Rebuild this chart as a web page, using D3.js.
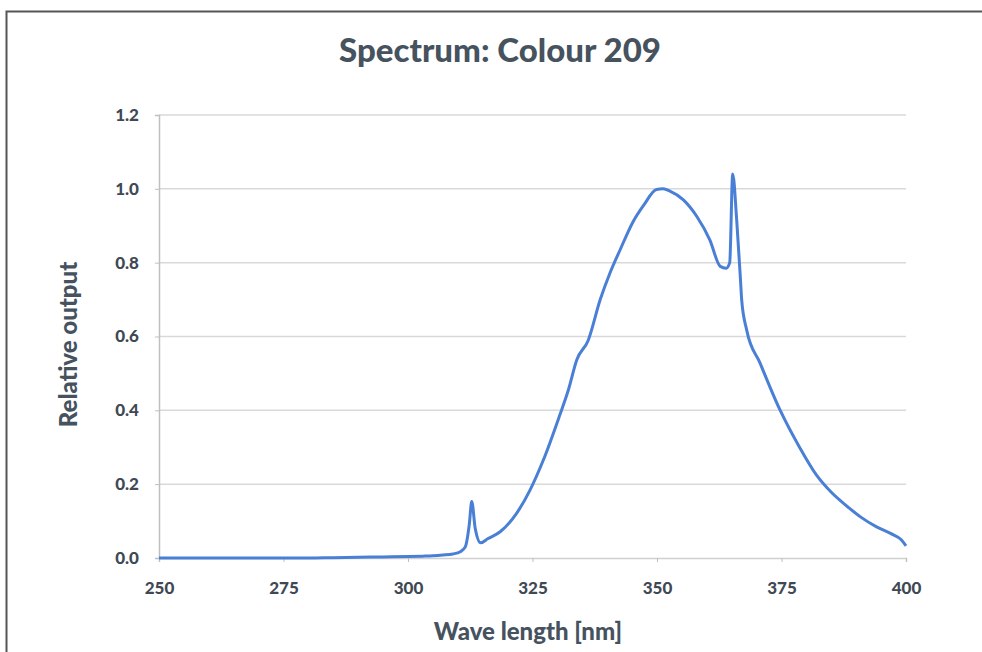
<!DOCTYPE html>
<html>
<head>
<meta charset="utf-8">
<script src="https://cdn.jsdelivr.net/npm/d3@7"></script>
<style>
  body { margin: 0; background: #fff; }
  text { font-family: Lato, "Open Sans", sans-serif; font-weight: 900; }
</style>
</head>
<body>
<div id="canvas"></div>
<script>
// data
var wavelengths = [250, 260, 270, 280, 285, 290, 295, 300, 303, 305, 307, 309, 310.5, 311.5, 312.3, 312.8,
  313.5, 314.6, 316, 318.5, 321.8, 324.5, 327.2, 330.5, 332.2, 333.9, 336.2, 338.6, 340.5, 342.6, 345.2,
  347.3, 349.9, 351.2, 352.6, 355.3, 358, 360.6, 362.7, 363.9, 364.6, 365.2, 366, 366.8, 367, 368, 370.7,
  374.7, 378.7, 382, 385, 388, 391, 394, 397, 399, 400];
var output = [0, 0, 0, 0, 0.001, 0.002, 0.003, 0.004, 0.005, 0.006, 0.008, 0.011, 0.017, 0.03, 0.09, 0.153,
  0.08, 0.041, 0.052, 0.071, 0.121, 0.184, 0.266, 0.388, 0.455, 0.537, 0.59, 0.70, 0.77, 0.835, 0.911,
  0.955, 0.998, 1.0, 0.994, 0.97, 0.925, 0.862, 0.79, 0.785, 0.80, 1.04, 0.916, 0.745, 0.70, 0.618, 0.528,
  0.401, 0.298, 0.225, 0.178, 0.142, 0.11, 0.085, 0.066, 0.05, 0.033];
var xTicks = [250, 275, 300, 325, 350, 375, 400];
var yTicks = [0, 0.2, 0.4, 0.6, 0.8, 1.0, 1.2];

var W = 982, H = 652;
var margin = { top: 115, right: 76, bottom: 94, left: 159 },
  width = W - margin.left - margin.right,
  height = H - margin.top - margin.bottom;

var svg = d3.select("#canvas").append("svg")
  .attr("width", W)
  .attr("height", H);

// chart frame
svg.append("rect")
  .attr("x", 6.5).attr("y", 11.5)
  .attr("width", W).attr("height", H)
  .attr("fill", "none")
  .attr("stroke", "#555")
  .attr("stroke-width", 2);

svg.append("text")
  .attr("x", 500).attr("y", 62)
  .attr("text-anchor", "middle")
  .attr("font-size", 33)
  .attr("fill", "#46535f")
  .text("Spectrum: Colour 209");

var g = svg.append("g")
  .attr("transform", "translate(" + margin.left + "," + margin.top + ")");

var x = d3.scaleLinear().domain([250, 400]).range([0, width]);
var y = d3.scaleLinear().domain([0, 1.2]).range([height, 0]);

// gridlines
g.selectAll(".grid")
  .data(yTicks.slice(1))
  .enter().append("line")
  .attr("x1", 0).attr("x2", width)
  .attr("y1", function(d) { return y(d); })
  .attr("y2", function(d) { return y(d); })
  .attr("stroke", "#d9d9d9")
  .attr("stroke-width", 1.5);

// y axis
var yAxis = g.append("g")
  .call(d3.axisLeft(y).tickValues(yTicks).tickFormat(d3.format(".1f")).tickSize(4).tickPadding(16));
yAxis.select(".domain").attr("stroke", "#bfbfbf").attr("stroke-width", 1.5);
yAxis.selectAll(".tick line").attr("stroke", "#bfbfbf");
yAxis.selectAll("text").attr("font-size", 17).attr("fill", "#3f4954")
  .attr("font-family", "Lato, sans-serif").attr("font-weight", 900);

// x axis
var xAxis = g.append("g")
  .attr("transform", "translate(0," + height + ")")
  .call(d3.axisBottom(x).tickValues(xTicks).tickSize(4).tickPadding(20));
xAxis.select(".domain").attr("stroke", "#d0d0d0").attr("stroke-width", 1.5);
xAxis.selectAll(".tick line").attr("stroke", "#bfbfbf");
xAxis.selectAll("text").attr("font-size", 17).attr("fill", "#3f4954")
  .attr("font-family", "Lato, sans-serif").attr("font-weight", 900);

// the spectrum
var pts = wavelengths.map(function(d, i) { return [d, output[i]]; });
g.append("path")
  .datum(pts)
  .attr("fill", "none")
  .attr("stroke", "#4a7fd6")
  .attr("stroke-width", 3)
  .attr("stroke-linejoin", "round")
  .attr("d", d3.line()
    .curve(d3.curveMonotoneX)
    .x(function(d) { return x(d[0]); })
    .y(function(d) { return y(d[1]); }));

// axis titles
svg.append("text")
  .attr("transform", "translate(77," + (margin.top + height / 2 + 8) + ") rotate(-90)")
  .attr("text-anchor", "middle")
  .attr("font-size", 24)
  .attr("fill", "#46535f")
  .text("Relative output");

svg.append("text")
  .attr("x", 528).attr("y", 640)
  .attr("text-anchor", "middle")
  .attr("font-size", 24)
  .attr("fill", "#46535f")
  .text("Wave length [nm]");
</script>
</body>
</html>
